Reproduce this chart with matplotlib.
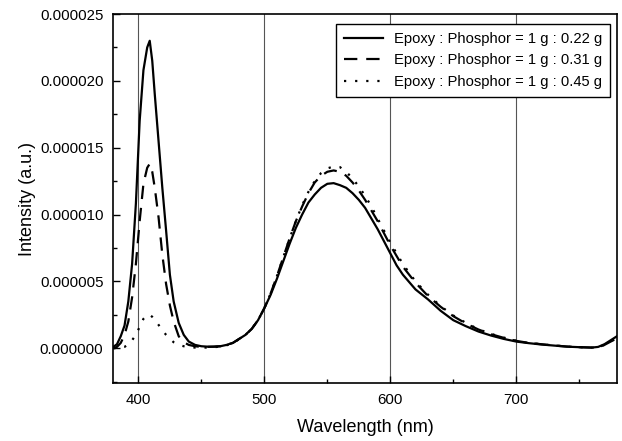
import numpy as np
import matplotlib.pyplot as plt
from matplotlib.ticker import MultipleLocator, FormatStrFormatter

plt.rcParams['font.family'] = ['Liberation Sans', 'DejaVu Sans']

# wavelength (nm)
wl = [380, 383, 386, 389, 392, 395, 398, 401, 404, 407, 409, 411, 413, 416, 419,
      422, 425, 428, 432, 436, 440, 445, 450, 455, 460, 465, 470, 475, 480, 485,
      490, 495, 500, 505, 510, 515, 520, 525, 530, 535, 540, 545, 550, 555, 560,
      565, 570, 575, 580, 585, 590, 595, 600, 605, 610, 620, 630, 640, 650, 660,
      670, 680, 690, 700, 710, 720, 730, 740, 750, 760, 765, 770, 775, 780]

# intensities, in units of 1e-6 a.u.
int_022 = [0.1, 0.3, 0.9, 1.7, 3.5, 6.3, 10.8, 17.0, 20.8, 22.5, 23.0, 21.5, 19.0, 15.5, 12.0,
           8.8, 5.5, 3.5, 1.9, 1.0, 0.5, 0.25, 0.15, 0.12, 0.12, 0.15, 0.25, 0.4, 0.7, 1.0,
           1.45, 2.1, 3.0, 4.0, 5.2, 6.5, 7.8, 9.0, 10.0, 10.9, 11.5, 12.0, 12.3, 12.35, 12.2,
           12.0, 11.6, 11.1, 10.5, 9.7, 8.9, 8.0, 7.1, 6.2, 5.5, 4.4, 3.65, 2.8, 2.1, 1.65,
           1.25, 0.95, 0.7, 0.5, 0.38, 0.28, 0.2, 0.12, 0.08, 0.05, 0.1, 0.3, 0.6, 0.9]

int_031 = [0.0, 0.1, 0.4, 1.0, 2.0, 3.8, 6.3, 9.5, 12.3, 13.5, 13.8, 13.2, 12.0, 9.8, 7.0,
           4.8, 3.2, 2.0, 0.9, 0.45, 0.25, 0.15, 0.1, 0.1, 0.12, 0.15, 0.25, 0.4, 0.7, 1.0,
           1.45, 2.1, 3.0, 4.1, 5.4, 6.8, 8.2, 9.5, 10.6, 11.6, 12.4, 12.9, 13.2, 13.3, 13.2,
           12.9, 12.4, 11.8, 11.1, 10.3, 9.5, 8.6, 7.7, 6.9, 6.1, 4.9, 3.9, 3.1, 2.4, 1.85,
           1.4, 1.05, 0.78, 0.55, 0.4, 0.3, 0.21, 0.13, 0.08, 0.05, 0.08, 0.25, 0.5, 0.75]

int_045 = [0.0, 0.0, 0.05, 0.1, 0.3, 0.6, 1.0, 1.6, 2.2, 2.5, 2.5, 2.35, 2.15, 1.75, 1.35,
           1.0, 0.7, 0.45, 0.25, 0.15, 0.08, 0.05, 0.05, 0.05, 0.08, 0.12, 0.22, 0.38, 0.68, 1.0,
           1.45, 2.1, 3.0, 4.1, 5.4, 6.8, 8.2, 9.5, 10.7, 11.7, 12.5, 13.1, 13.45, 13.6, 13.55,
           13.2, 12.7, 12.1, 11.4, 10.6, 9.7, 8.8, 7.9, 7.1, 6.3, 5.0, 4.0, 3.15, 2.45, 1.9,
           1.42, 1.07, 0.8, 0.56, 0.4, 0.3, 0.21, 0.13, 0.08, 0.05, 0.08, 0.25, 0.5, 0.75]

labels = ['Epoxy : Phosphor = 1 g : 0.22 g',
          'Epoxy : Phosphor = 1 g : 0.31 g',
          'Epoxy : Phosphor = 1 g : 0.45 g']

fig = plt.figure(figsize=(6.22, 4.41), dpi=100)
ax = fig.add_axes([0.182, 0.1315, 0.810, 0.8367])

ax.plot(wl, np.array(int_022) * 1e-6, color='black', lw=1.6, ls='-', label=labels[0])
ax.plot(wl, np.array(int_031) * 1e-6, color='black', lw=1.6, ls=(0, (6, 4)), label=labels[1])
ax.plot(wl, np.array(int_045) * 1e-6, color='black', lw=1.6, ls=(0, (1, 4)), label=labels[2])

ax.set_xlim(380, 780)
ax.set_ylim(-2.6e-6, 2.5e-5)
ax.xaxis.set_major_locator(MultipleLocator(100))
ax.xaxis.set_minor_locator(MultipleLocator(50))
ax.yaxis.set_major_locator(MultipleLocator(5e-6))
ax.yaxis.set_minor_locator(MultipleLocator(2.5e-6))
ax.yaxis.set_major_formatter(FormatStrFormatter('%.6f'))
ax.tick_params(which='major', direction='in', length=5, width=1, labelsize=10.8, pad=7)
ax.tick_params(which='minor', direction='in', length=3, width=1)
ax.grid(axis='x', which='major', color='#555555', lw=0.8)

for s in ax.spines.values():
    s.set_linewidth(1.2)

ax.set_xlabel('Wavelength (nm)', fontsize=13, labelpad=9)
ax.set_ylabel('Intensity (a.u.)', fontsize=13, labelpad=3)

leg = ax.legend(loc='upper right', bbox_to_anchor=(0.986, 0.973), fontsize=10.6,
                frameon=True, fancybox=False, edgecolor='black', framealpha=1,
                handlelength=2.65, handletextpad=0.7, borderaxespad=0,
                labelspacing=0.5, borderpad=0.55)
leg.get_frame().set_linewidth(1.0)

fig.savefig('out.png', dpi=100)
